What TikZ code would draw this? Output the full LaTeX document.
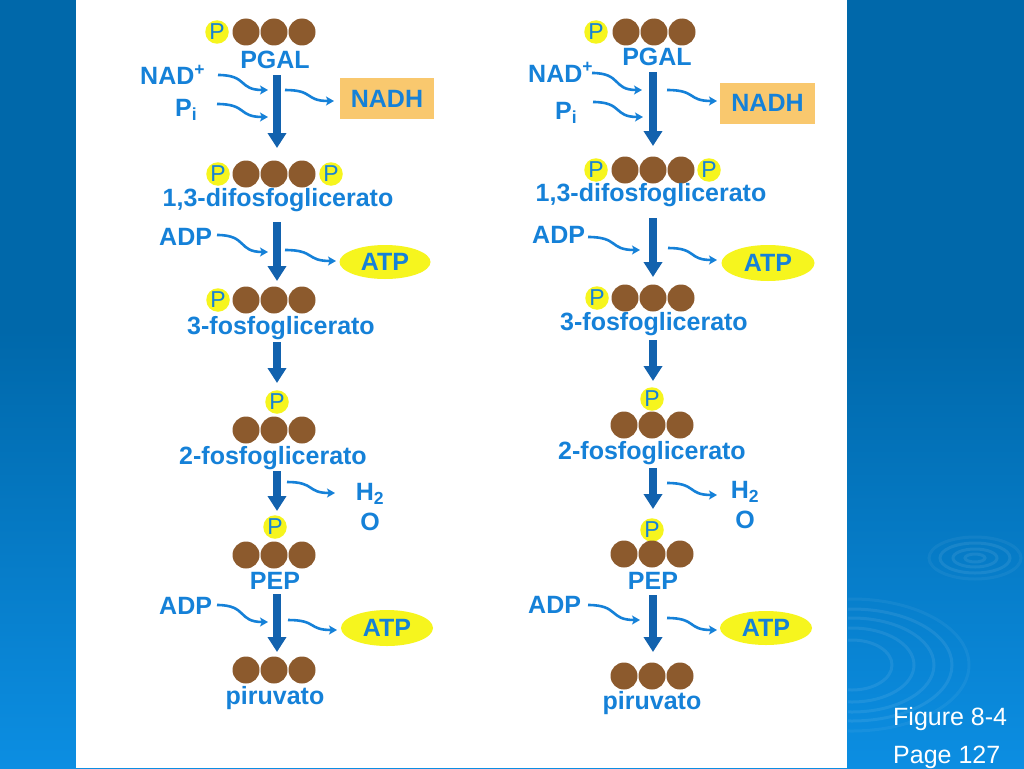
\documentclass[tikz,border=0pt]{standalone}
\usepackage{fontspec}
\setmainfont{Liberation Sans}
\usetikzlibrary{arrows.meta,shapes.geometric,calc}
\definecolor{bgblue}{HTML}{0068AA}
\definecolor{bglight}{HTML}{0C8EE2}
\definecolor{txtblue}{HTML}{1581D8}
\definecolor{arrblue}{HTML}{1262AE}
\definecolor{molbrown}{HTML}{8C5A2D}
\definecolor{pyellow}{HTML}{F6F51E}
\definecolor{nadhfill}{HTML}{F9C86E}
\begin{document}
\begin{tikzpicture}[x=1pt,y=-1pt,
  bc/.style={circle,fill=molbrown,minimum size=27pt,inner sep=0pt},
  pc/.style={circle,fill=pyellow,minimum size=23.5pt,inner sep=0pt,text=txtblue,font=\fontsize{23}{24}\selectfont},
  lab/.style={text=txtblue,font=\fontsize{25}{30}\selectfont\bfseries,inner sep=0pt,anchor=base},
  labw/.style={lab,anchor=base west},
  nadhbox/.style={fill=nadhfill,text=txtblue,font=\fontsize{25}{30}\selectfont\bfseries,minimum width=94pt,minimum height=41pt,inner sep=0pt},
  atpell/.style={ellipse,fill=pyellow,text=txtblue,font=\fontsize{25}{30}\selectfont\bfseries,inner sep=0pt},
  bigarrow/.style={draw=arrblue,line width=7.5pt,-{Triangle[length=15pt,width=18pt]}},
  wavy/.style={draw=txtblue,line width=2.6pt,-{Stealth[length=8pt,width=9pt,inset=2pt]}},
  ripple/.style={draw=white,draw opacity=0.08,line width=3pt},
  figtext/.style={text=white,font=\fontsize{25}{28}\selectfont,inner sep=0pt,anchor=base west}]
\useasboundingbox (0,0) rectangle (1024,768);
% background
\fill[bgblue] (0,0) rectangle (1024,768);
\shade[top color=bgblue,bottom color=bglight] (0,330) rectangle (1024,768);
\begin{scope}
\clip (848,0) rectangle (1024,768);
\draw[ripple] (975,558) ellipse (10 and 4);
\draw[ripple] (975,558) ellipse (22 and 9);
\draw[ripple] (975,558) ellipse (35 and 15);
\draw[ripple,draw opacity=0.05] (975,558) ellipse (46 and 21);
\draw[ripple] (852,665) ellipse (40 and 25);
\draw[ripple] (852,665) ellipse (62 and 37);
\draw[ripple] (852,665) ellipse (82 and 47);
\draw[ripple] (852,665) ellipse (100 and 56);
\draw[ripple,draw opacity=0.05] (852,665) ellipse (117 and 66);
\end{scope}
\fill[white] (76,0) rectangle (847,768);
\node[figtext] (fig) at (893,725) {Figure 8-4};
\node[figtext] (pag) at (893,763) {Page 127};

% ================= LEFT COLUMN =================
\node[pc] (LAp) at (217,32) {P};
\node[bc] (LAc1) at (246,32) {};
\node[bc] (LAc2) at (274,32) {};
\node[bc] (LAc3) at (302,32) {};
\node[lab] (LAt) at (275,68) {PGAL};
\node[labw] (Lnad) at (140,84.5) {NAD\textsuperscript{+}};
\node[labw] (Lpi) at (175,116.5) {P\textsubscript{i}};
\node[nadhbox] (Lnadh) at (387,98.5) {NADH};
\coordinate (LA1) at (277,75); \coordinate (LA2) at (277,148);
\draw[bigarrow] (LA1) -- (LA2);
\coordinate (Lw1a) at (218,75);  \coordinate (Lw1b) at (268,90);
\coordinate (Lw2a) at (217,104); \coordinate (Lw2b) at (268,117);
\coordinate (Lw3a) at (285,90);  \coordinate (Lw3b) at (334,101);
\node[pc] (LBp1) at (218,174) {P};
\node[bc] (LBc1) at (246,174) {};
\node[bc] (LBc2) at (274,174) {};
\node[bc] (LBc3) at (302,174) {};
\node[pc] (LBp2) at (331,174) {P};
\node[lab] (LBt) at (278,206) {1,3-difosfoglicerato};
\node[labw] (Ladp1) at (159,245) {ADP};
\node[atpell,minimum width=91pt,minimum height=34pt] (Latp1) at (385,262) {ATP};
\coordinate (LB1) at (277,222); \coordinate (LB2) at (277,281);
\draw[bigarrow] (LB1) -- (LB2);
\coordinate (Lw4a) at (217,235); \coordinate (Lw4b) at (268,252);
\coordinate (Lw5a) at (285,250); \coordinate (Lw5b) at (336,261);
\node[pc] (LCp) at (218,300) {P};
\node[bc] (LCc1) at (246,300) {};
\node[bc] (LCc2) at (274,300) {};
\node[bc] (LCc3) at (302,300) {};
\node[lab] (LCt) at (281,334) {3-fosfoglicerato};
\coordinate (LC1) at (277,342); \coordinate (LC2) at (277,383);
\draw[bigarrow] (LC1) -- (LC2);
\node[pc] (LDp) at (277,402) {P};
\node[bc] (LDc1) at (246,430) {};
\node[bc] (LDc2) at (274,430) {};
\node[bc] (LDc3) at (302,430) {};
\node[lab] (LDt) at (273,464) {2-fosfoglicerato};
\coordinate (LD1) at (277,471); \coordinate (LD2) at (277,511);
\draw[bigarrow] (LD1) -- (LD2);
\node[lab,align=center,anchor=north] (Lh2o) at (370,483) {H\textsubscript{2}\\O};
\coordinate (Lw6a) at (287,482); \coordinate (Lw6b) at (335,493);
\node[pc] (LEp) at (275,527) {P};
\node[bc] (LEc1) at (246,555) {};
\node[bc] (LEc2) at (274,555) {};
\node[bc] (LEc3) at (302,555) {};
\node[lab] (LEt) at (275,589.5) {PEP};
\node[labw] (Ladp2) at (159,614) {ADP};
\node[atpell,minimum width=92pt,minimum height=36pt] (Latp2) at (387,628) {ATP};
\coordinate (LE1) at (277,594); \coordinate (LE2) at (277,652);
\draw[bigarrow] (LE1) -- (LE2);
\coordinate (Lw7a) at (217,605); \coordinate (Lw7b) at (268,622);
\coordinate (Lw8a) at (288,620); \coordinate (Lw8b) at (337,630);
\node[bc] (LFc1) at (246,670) {};
\node[bc] (LFc2) at (274,670) {};
\node[bc] (LFc3) at (302,670) {};
\node[lab] (LFt) at (275,704) {piruvato};

% ================= RIGHT COLUMN =================
\node[pc] (RAp) at (596,32) {P};
\node[bc] (RAc1) at (626,32) {};
\node[bc] (RAc2) at (654,32) {};
\node[bc] (RAc3) at (682,32) {};
\node[lab] (RAt) at (657,65.5) {PGAL};
\node[labw] (Rnad) at (528,82) {NAD\textsuperscript{+}};
\node[labw] (Rpi) at (555,119) {P\textsubscript{i}};
\node[nadhbox,minimum width=95pt] (Rnadh) at (767.5,103) {NADH};
\coordinate (RA1) at (653,72); \coordinate (RA2) at (653,146);
\draw[bigarrow] (RA1) -- (RA2);
\coordinate (Rw1a) at (592,73);  \coordinate (Rw1b) at (642,90);
\coordinate (Rw2a) at (593,102); \coordinate (Rw2b) at (643,117);
\coordinate (Rw3a) at (667,90);  \coordinate (Rw3b) at (717,101);
\node[pc] (RBp1) at (596,170) {P};
\node[bc] (RBc1) at (625,170) {};
\node[bc] (RBc2) at (653,170) {};
\node[bc] (RBc3) at (681,170) {};
\node[pc] (RBp2) at (709,170) {P};
\node[lab] (RBt) at (651,201) {1,3-difosfoglicerato};
\node[labw] (Radp1) at (532,243.5) {ADP};
\node[atpell,minimum width=93pt,minimum height=36pt] (Ratp1) at (768,263) {ATP};
\coordinate (RB1) at (653,218); \coordinate (RB2) at (653,277);
\draw[bigarrow] (RB1) -- (RB2);
\coordinate (Rw4a) at (588,237); \coordinate (Rw4b) at (640,250);
\coordinate (Rw5a) at (668,248); \coordinate (Rw5b) at (717,260);
\node[pc] (RCp) at (597,298) {P};
\node[bc] (RCc1) at (625,298) {};
\node[bc] (RCc2) at (653,298) {};
\node[bc] (RCc3) at (681,298) {};
\node[lab] (RCt) at (654,330.5) {3-fosfoglicerato};
\coordinate (RC1) at (653,340); \coordinate (RC2) at (653,381);
\draw[bigarrow] (RC1) -- (RC2);
\node[pc] (RDp) at (652,399) {P};
\node[bc] (RDc1) at (624,425) {};
\node[bc] (RDc2) at (652,425) {};
\node[bc] (RDc3) at (680,425) {};
\node[lab] (RDt) at (652,459) {2-fosfoglicerato};
\coordinate (RD1) at (653,468); \coordinate (RD2) at (653,509);
\draw[bigarrow] (RD1) -- (RD2);
\node[lab,align=center,anchor=north] (Rh2o) at (745,481) {H\textsubscript{2}\\O};
\coordinate (Rw6a) at (667,483); \coordinate (Rw6b) at (717,495);
\node[pc] (REp) at (652,530) {P};
\node[bc] (REc1) at (624,554) {};
\node[bc] (REc2) at (652,554) {};
\node[bc] (REc3) at (680,554) {};
\node[lab] (REt) at (653,589) {PEP};
\node[labw] (Radp2) at (528,613.5) {ADP};
\node[atpell,minimum width=92pt,minimum height=34pt] (Ratp2) at (766,628) {ATP};
\coordinate (RE1) at (653,595); \coordinate (RE2) at (653,652);
\draw[bigarrow] (RE1) -- (RE2);
\coordinate (Rw7a) at (588,605); \coordinate (Rw7b) at (640,620);
\coordinate (Rw8a) at (667,618); \coordinate (Rw8b) at (717,630);
\node[bc] (RFc1) at (624,676) {};
\node[bc] (RFc2) at (652,676) {};
\node[bc] (RFc3) at (680,676) {};
\node[lab] (RFt) at (652,709) {piruvato};

% wavy arrows
\foreach \w in {Lw1,Lw2,Lw3,Lw4,Lw5,Lw6,Lw7,Lw8,Rw1,Rw2,Rw3,Rw4,Rw5,Rw6,Rw7,Rw8}{
  \draw[wavy] let \p1=(\w a), \p2=(\w b) in
    (\p1) .. controls ({\x1+0.6*(\x2-\x1)},\y1) and ({\x2-0.6*(\x2-\x1)},\y2) .. (\p2);
}
\end{tikzpicture}
\end{document}
